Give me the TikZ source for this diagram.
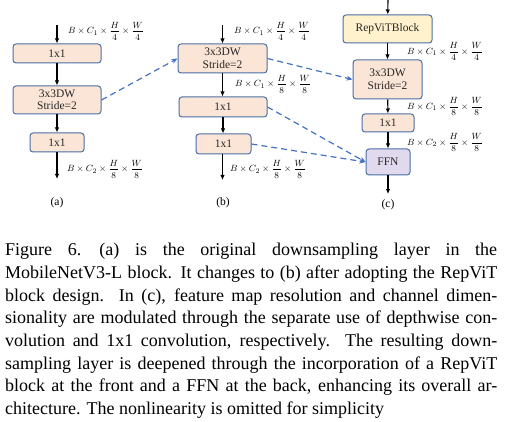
\documentclass[tikz,border=0pt]{standalone}
\usepackage{amsmath}
\usepackage{fontspec}
\setmainfont{Liberation Serif}
\usetikzlibrary{arrows.meta}
\definecolor{boxline}{HTML}{4A6FA5}
\definecolor{peach}{HTML}{FBE5D6}
\definecolor{cream}{HTML}{FFF2CC}
\definecolor{lilac}{HTML}{E1DAEE}
\definecolor{dashblue}{HTML}{4472C4}
\newcommand{\shp}[2]{$B\times C_{#1}\times\dfrac{H}{#2}\times\dfrac{W}{#2}$}
\tikzset{blk/.style={draw=boxline,fill=peach,line width=1pt,rounded corners=3pt,
    inner sep=0pt,align=center,font=\fontsize{11.5}{12.5}\selectfont,text=black!85},
  lbl/.style={anchor=west,inner sep=0pt,font=\fontsize{9.3}{10}\selectfont},
  flow/.style={-{Latex[length=5pt,width=4.5pt]},line width=1.1pt},
  dsh/.style={-{Stealth[length=6pt,width=5pt]},dashblue,line width=1.2pt,dash pattern=on 6pt off 4pt}
}

\begin{document}
\begin{tikzpicture}[x=1pt,y=-1pt]
    \useasboundingbox (0,0) rectangle (508,422);

    % Dessine (a)
    \node[blk,minimum width=88,minimum height=19] (a1) at (57,53.5) {1x1};
    \node[blk,minimum width=88,minimum height=28] (a2) at (57,100) {3x3DW\\Stride=2};
    \node[blk,minimum width=54,minimum height=19] (a3) at (57,142.5) {1x1};
    \coordinate (ain) at (57,25);
    \coordinate (aout) at (57,179);
    \draw[flow] (ain) -- (a1);
    \draw[flow] (a1) -- (a2);
    \draw[flow] (a2) -- (a3);
    \draw[flow] (a3) -- (aout);
    \node[lbl] (la1) at (68,31) {\shp{1}{4}};
    \node[lbl] (la2) at (67,169) {\shp{2}{8}};
    \node[font=\fontsize{11.5}{12}\selectfont] (ta) at (57,203) {(a)};

    % Dessine (b)
    \node[blk,minimum width=89,minimum height=29] (b1) at (222.5,58.5) {3x3DW\\Stride=2};
    \node[blk,minimum width=88,minimum height=20] (b2) at (223,107) {1x1};
    \node[blk,minimum width=55,minimum height=20] (b3) at (223.5,144) {1x1};
    \coordinate (bin) at (222.5,25);
    \coordinate (bout) at (222.5,180);
    \draw[flow] (bin) -- (b1);
    \draw[flow] (b1) -- (b1 |- b2.north);
    \draw[flow] (b2) -- (b2 |- b3.north);
    \draw[flow] (b3.south -| b1) -- (bout);
    \node[lbl] (lb1) at (234,31) {\shp{1}{4}};
    \node[lbl] (lb2) at (235,84) {\shp{1}{8}};
    \node[lbl] (lb3) at (230,169) {\shp{2}{8}};
    \node[font=\fontsize{11.5}{12}\selectfont] (tb) at (223,203) {(b)};

    % Dessine (c)
    \node[blk,fill=cream,minimum width=89,minimum height=28] (c0) at (387.5,29) {RepViTBlock};
    \node[blk,minimum width=69,minimum height=39] (c1) at (387.5,79.5) {3x3DW\\Stride=2};
    \node[blk,minimum width=52,minimum height=18] (c2) at (388,123) {1x1};
    \node[blk,fill=lilac,minimum width=44,minimum height=26] (c3) at (388,162) {FFN};
    \coordinate (cin) at (388,0);
    \coordinate (cout) at (388,194);
    \draw[flow] (cin) -- (c0);
    \draw[flow] (c0) -- (c1);
    \draw[flow] (c1) -- (c2);
    \draw[flow] (c2) -- (c3);
    \draw[flow] (c3) -- (cout);
    \node[lbl] (lc1) at (407,51.5) {\shp{1}{4}};
    \node[lbl] (lc2) at (407,106.5) {\shp{1}{8}};
    \node[lbl] (lc3) at (407,142.5) {\shp{2}{8}};
    \node[font=\fontsize{11.5}{12}\selectfont] (tc) at (388,205) {(c)};

    % Dessine les flèches pointillées
    \draw[dsh] (a2.east) -- (b1.west);
    \draw[dsh] (b1.east) -- (c1.west);
    \draw[dsh] (b2.east) -- (c3.west);
    \draw[dsh] (b3.east) -- (c3.west);

    % Légende
    \node[anchor=north west,inner sep=0pt,text width=492pt,align=justify,
        font=\fontsize{18}{22.7}\selectfont] (cap) at (5,243) {Figure 6.\quad (a) is the original downsampling layer in the\linebreak
        MobileNetV3-L block. It changes to (b) after adopting the RepViT\linebreak
        block design. In (c), feature map resolution and channel dimen-\linebreak
        sionality are modulated through the separate use of depthwise con-\linebreak
        volution and 1x1 convolution, respectively. The resulting down-\linebreak
        sampling layer is deepened through the incorporation of a RepViT\linebreak
        block at the front and a FFN at the back, enhancing its overall ar-\linebreak
        chitecture. The nonlinearity is omitted for simplicity\par};
\end{tikzpicture}
\end{document}
